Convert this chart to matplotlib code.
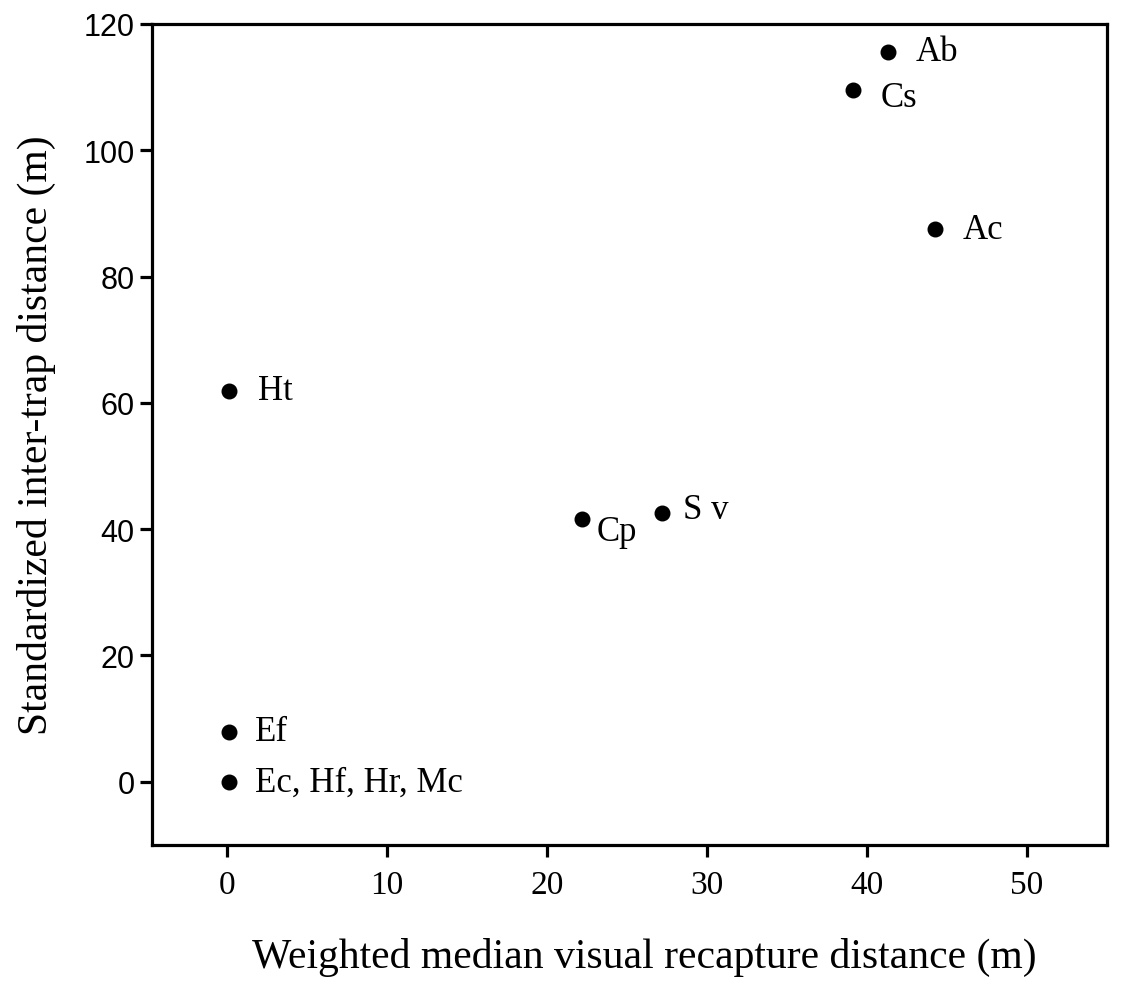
import matplotlib
matplotlib.use("Agg")
import matplotlib.pyplot as plt

# species codes and values
labels = ["Ab", "Cs", "Ac", "Ht", "Cp", "S v", "Ef", "Ec, Hf, Hr, Mc"]
recapture = [41.3, 39.1, 44.25, 0.1, 22.2, 27.2, 0.1, 0.1]
intertrap = [115.6, 109.6, 87.5, 61.9, 41.6, 42.6, 7.9, 0.0]
# label offsets in points (dx, dy)
offsets = [(20, 0), (20, -6), (20, 0), (21, 0), (10, -9), (15, 2), (19, 0), (19, 0)]

serif = ["Liberation Serif", "DejaVu Serif"]

fig = plt.figure(figsize=(11.22, 9.87), dpi=100)
ax = fig.add_axes([0.1355, 0.1429, 0.8511, 0.8318])

ax.scatter(recapture, intertrap, s=110, color="black", zorder=3)
for x, y, lab, (dx, dy) in zip(recapture, intertrap, labels, offsets):
    ax.annotate(lab, (x, y), xytext=(dx, dy), textcoords="offset points",
                ha="left", va="center", fontsize=25, family=serif)

ax.set_xlim(-4.7, 55)
ax.set_ylim(-10, 120)
ax.set_xticks([0, 10, 20, 30, 40, 50])
ax.set_yticks([0, 20, 40, 60, 80, 100, 120])

for sp in ax.spines.values():
    sp.set_linewidth(2.3)
ax.tick_params(direction="out", length=8.5, width=2.3)
ax.tick_params(axis="x", pad=9)
ax.tick_params(axis="y", pad=4)
for t in ax.get_xticklabels():
    t.set_family(serif)
    t.set_fontsize(24)
for t in ax.get_yticklabels():
    t.set_family(["Liberation Sans", "DejaVu Sans"])
    t.set_fontsize(22)

ax.set_xlabel("Weighted median visual recapture distance (m)", fontsize=30,
              family=serif)
ax.xaxis.set_label_coords(0.516, -0.112)
ax.set_ylabel("Standardized inter-trap distance (m)", fontsize=30,
              family=serif, labelpad=20)

fig.savefig("out.png", dpi=100)
